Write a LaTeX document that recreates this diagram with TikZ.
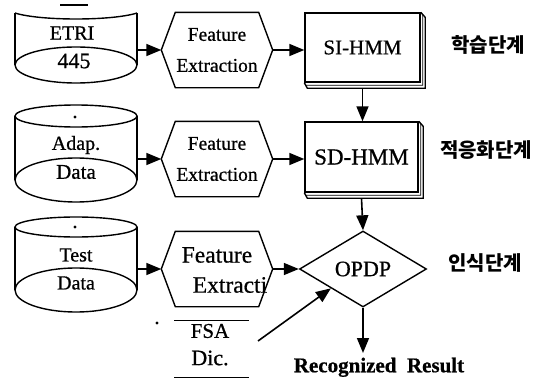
\documentclass[tikz,border=0pt]{standalone}
\usepackage{fontspec}
\setmainfont{Liberation Serif}[FakeBold=0.7]
\newfontfamily\kr{Noto Sans CJK KR}
\usetikzlibrary{shapes.geometric,arrows.meta,calc}
\newcommand\stackshadow[1]{%
  \draw[line width=0.8pt] (#1.north east) -- ++(2,2) -- ($(#1.south east)+(2,2.5)$) -- ($(#1.south west)+(1.5,2.5)$);
  \draw[line width=1.4pt] (#1.north east) -- ++(4.5,5) -- ($(#1.south east)+(4.5,5.5)$) -- ($(#1.south west)+(3,5.5)$) -- (#1.south west);}
\newcommand\hexagonof[1]{%
  \draw (#1.west) -- ([xshift=14pt]#1.north west) -- ([xshift=-14pt]#1.north east) -- (#1.east)
        -- ([xshift=-14pt]#1.south east) -- ([xshift=14pt]#1.south west) -- cycle;}
\begin{document}
\begin{tikzpicture}[x=1pt,y=-1pt,line width=1.4pt,
  arr/.style={-{Triangle[length=15pt,width=12pt]},line width=1.6pt},
  ghost/.style={inner sep=0pt,minimum width=#1},
  hexbox/.style={inner sep=0pt,minimum width=110pt,minimum height=74pt,align=center},
  modelbox/.style={draw,fill=white,inner sep=0pt},
  kor/.style={font=\kr\bfseries\fontsize{20}{20}\selectfont,inner sep=0pt},
  fs/.style={font=\fontsize{#1}{#1}\selectfont,inner sep=1pt}
]
\useasboundingbox (0,0) rectangle (542,380);

% ---------- cylinder 1 (ETRI 445)
\node[ghost=122pt,minimum height=70pt] (etri) at (76,48) {};
\draw (60,5) -- (88,5);
\draw (15,13) .. controls (40,21) and (112,21) .. (137,13);
\draw (15,13) -- (15,65);
\draw (137,13) -- (137,65);
\draw (76,65) ellipse [x radius=61pt,y radius=18pt];
\node[fs=20] (etrit) at (72,33) {ETRI};
\node[fs=22,fill=white,inner sep=2pt] (n445) at (74,61) {445};

% ---------- cylinder 2 (Adap. Data)
\node[ghost=122pt,minimum height=96pt] (adap) at (76,154) {};
\draw (76,116) ellipse [x radius=61pt,y radius=11pt];
\fill (75,117) circle (1.6pt);
\draw (15,116) -- (15,180);
\draw (137,116) -- (137,180);
\draw (76,180) ellipse [x radius=61pt,y radius=22pt];
\node[fs=20] (adapt) at (76,145) {Adap.};
\node[fs=21] (adapd) at (76,172) {Data};

% ---------- cylinder 3 (Test Data)
\node[ghost=122pt,minimum height=96pt] (test) at (76,264) {};
\draw (76,227) ellipse [x radius=61pt,y radius=10pt];
\fill (75,227) circle (1.6pt);
\draw (15,227) -- (15,290);
\draw (137,227) -- (137,290);
\draw (76,290) ellipse [x radius=61pt,y radius=22pt];
\node[fs=20] (testt) at (76,255) {Test};
\node[fs=20] (testd) at (76,283) {Data};

% ---------- feature extraction hexagons
\node[hexbox,font=\fontsize{19.5}{31}\selectfont] (fe1) at (217,50) {Feature\\Extraction};
\hexagonof{fe1}
\node[hexbox,font=\fontsize{19.5}{31}\selectfont] (fe2) at (217,159) {Feature\\Extraction};
\hexagonof{fe2}
\node[hexbox] (fe3) at (217,269) {};
\hexagonof{fe3}
\node[fs=23.5] (fe3a) at (217,255) {Feature};
\node[fs=23.5] (fe3b) at (230,285) {Extracti};

% ---------- models
\node[modelbox,minimum width=115pt,minimum height=69pt,font=\fontsize{21}{21}\selectfont] (si) at (362.5,47.5) {SI-HMM};
\stackshadow{si}
\node[modelbox,minimum width=113pt,minimum height=70pt,font=\fontsize{23}{23}\selectfont] (sd) at (361.5,157) {SD-HMM};
\stackshadow{sd}

% ---------- OPDP
\node[diamond,draw,aspect=1.67,minimum width=127pt,minimum height=76pt,inner sep=0pt,
      font=\fontsize{22}{22}\selectfont] (opdp) at (363,269) {OPDP};

% ---------- FSA Dic.
\node[ghost=73pt,minimum height=56pt] (dic) at (211.5,349) {};
\draw (dic.north west) -- (dic.north east);
\draw (dic.south west) -- (dic.south east);
\node[fs=21] (fsa) at (210,331) {FSA};
\node[fs=22] (dict) at (210,358) {Dic.};
\fill (157,323) circle (1.6pt);
\coordinate (dicout) at (258,341);

% ---------- result
\node[font=\bfseries\fontsize{21}{21}\selectfont,anchor=north,inner sep=0pt] (result) at (379,357) {Recognized\ \ Result};

% ---------- stage labels
\node[kor] (k1) at (488,45) {학습단계};
\node[kor] (k2) at (486,150) {적응화단계};
\node[kor] (k3) at (485,263) {인식단계};

% ---------- connectors
\draw[arr] (etri.east |- fe1.west) -- (fe1.west);
\draw[arr] (adap.east |- fe2.west) -- (fe2.west);
\draw[arr] (test.east |- fe3.west) -- (fe3.west);
\draw[arr] (fe1.east) -- (si.west |- fe1.east);
\draw[arr] (fe2.east) -- (sd.west |- fe2.east);
\draw[arr] (fe3.east) -- (opdp.west);
\draw[arr] ([yshift=-5.5pt]si.south) -- (si.south |- sd.north);
\draw[arr] ([yshift=-5.5pt]sd.south) -- (opdp.north);
\draw[arr] (dicout) -- (opdp.south west);
\draw[arr] (opdp.south) -- ([yshift=4pt]opdp.south |- result.north);
\end{tikzpicture}
\end{document}
